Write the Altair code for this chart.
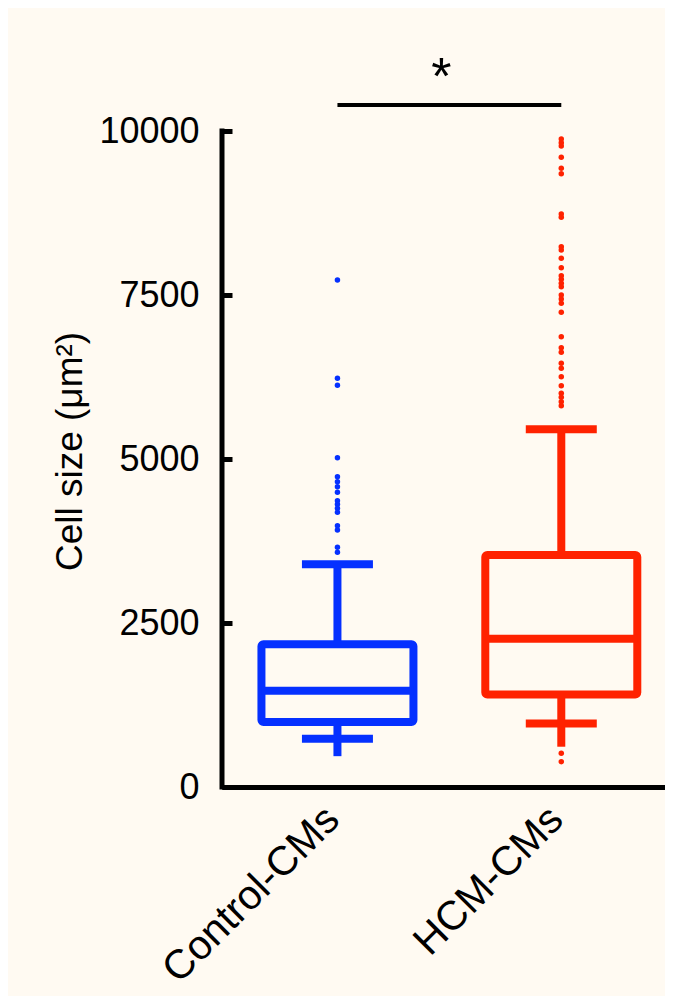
import altair as alt
import pandas as pd

# ---- data ----
groups = ["Control-CMs", "HCM-CMs"]
colors = ["#0530ff", "#ff2200"]
q1 = [991, 1410]
median = [1466, 2259]
q3 = [2177, 3537]
whisker_low = [735, 968]
whisker_high = [3395, 5454]
stem_end = [470, 614]

control_outliers = [7729, 6230, 6123, 5020, 4730, 4654, 4578, 4492, 4364,
                    4309, 4248, 4187, 3983, 3918, 3654, 3578]
hcm_outliers = [9878, 9822, 9771, 9599, 9431, 9350, 8735, 8684, 8236, 8186,
                8059, 7916, 7794, 7739, 7678, 7627, 7500, 7439, 7373, 7236,
                6864, 6697, 6627, 6459, 6383, 6255, 6117, 6002, 5941, 5873,
                5813, 514, 386]

y_ticks = [0, 2500, 5000, 7500, 10000]
y_title = "Cell size (μm²)"
sig_level = 10396
sig_text = "*"

FONT = "Liberation Sans"
BG = "#fffaf2"

idx = list(range(len(groups)))
stats = pd.DataFrame({
    "gi": idx, "group": groups, "q1": q1, "median": median, "q3": q3,
    "wlo": whisker_low, "whi": whisker_high, "stem_end": stem_end,
})
outl = pd.DataFrame({
    "gi": [0] * len(control_outliers) + [1] * len(hcm_outliers),
    "group": [groups[0]] * len(control_outliers) + [groups[1]] * len(hcm_outliers),
    "value": control_outliers + hcm_outliers,
})
sig = pd.DataFrame({"g1": [idx[0]], "g2": [idx[1]], "mid": [(idx[0] + idx[1]) / 2],
                    "y": [sig_level], "t": [sig_text]})

yscale = alt.Scale(domain=[0, 10000], nice=False, zero=True)
xscale = alt.Scale(domain=[-0.4934, 1.441], nice=False, zero=False)
cscale = alt.Scale(domain=groups, range=colors)

label_expr = "[" + ",".join("'" + g + "'" for g in groups) + "][datum.value]"
xaxis = alt.Axis(title=None, values=idx, labelExpr=label_expr, labelAngle=-45,
                 labelFontSize=41, labelFont=FONT, labelLimit=0, labelOffset=-5,
                 labelColor="black", ticks=False, domainWidth=5, domainColor="black",
                 labelPadding=26, labelAlign="right", labelBaseline="middle", grid=False)
yaxis = alt.Axis(values=y_ticks, format="d", offset=-10, domain=False, tickSize=10,
                 tickWidth=5, tickColor="black", labelFontSize=36, labelFont=FONT,
                 labelColor="black", labelPadding=23, grid=False,
                 title=y_title, titleFont=FONT, titleFontSize=37, titleFontWeight="normal",
                 titleColor="black", titleX=-162, titleY=320, titleBaseline="middle",
                 titleAngle=-90, titleAlign="center")

X = alt.X("gi:Q", scale=xscale, axis=xaxis)
C = alt.Color("group:N", scale=cscale, legend=None)

base = alt.Chart(stats)

stem_lo = base.mark_rule(strokeWidth=8, opacity=1).encode(
    x=X, y=alt.Y("q1:Q", scale=yscale, axis=yaxis), y2="stem_end:Q", color=C)
stem_hi = base.mark_rule(strokeWidth=8, opacity=1).encode(
    x=X, y=alt.Y("q3:Q", scale=yscale, axis=yaxis), y2="whi:Q", color=C)
cap_lo = base.mark_tick(size=71, thickness=8, orient="horizontal", opacity=1).encode(
    x=X, y=alt.Y("wlo:Q", scale=yscale, axis=yaxis), color=C)
cap_hi = base.mark_tick(size=71, thickness=8, orient="horizontal", opacity=1).encode(
    x=X, y=alt.Y("whi:Q", scale=yscale, axis=yaxis), color=C)
box = base.mark_bar(filled=False, strokeWidth=8, size=152, cornerRadius=2,
                    strokeJoin="round", opacity=1).encode(
    x=X, y=alt.Y("q1:Q", scale=yscale, axis=yaxis), y2="q3:Q", color=C)
med = base.mark_tick(size=152, thickness=8, orient="horizontal", opacity=1).encode(
    x=X, y=alt.Y("median:Q", scale=yscale, axis=yaxis), color=C)

pts = alt.Chart(outl).mark_circle(size=30, opacity=1).encode(
    x=X, y=alt.Y("value:Q", scale=yscale, axis=yaxis), color=C)

sig_rule = alt.Chart(sig).mark_rule(strokeWidth=4, color="black").encode(
    x=alt.X("g1:Q", scale=xscale, axis=xaxis), x2="g2:Q",
    y=alt.Y("y:Q", scale=yscale, axis=yaxis))
sig_star = alt.Chart(sig).mark_text(font=FONT, fontSize=52, color="black", dx=-8,
                                    dy=-11, baseline="alphabetic", align="center").encode(
    x=alt.X("mid:Q", scale=xscale, axis=xaxis),
    y=alt.Y("y:Q", scale=yscale, axis=yaxis), text="t:N")

yline_df = pd.DataFrame({"a": [y_ticks[0]], "b": [y_ticks[-1]]})
yline = alt.Chart(yline_df).mark_rule(strokeWidth=5, color="black", strokeCap="square").encode(
    x=alt.value(0), y=alt.Y("a:Q", scale=yscale, axis=yaxis), y2="b:Q")

chart = alt.layer(
    stem_lo, stem_hi, cap_lo, cap_hi, box, med, pts, sig_rule, sig_star, yline
).properties(
    width=443, height=656,
    autosize=alt.AutoSizeParams(type="none"),
    padding={"left": 214, "top": 123, "right": 0, "bottom": 209},
    background=BG,
).configure_view(stroke=None)

chart.save("out.html", embed_options={"renderer": "svg", "actions": False})
